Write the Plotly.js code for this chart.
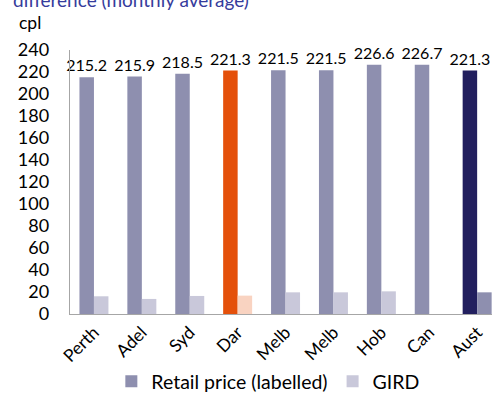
<!DOCTYPE html>
<html>
<head>
<meta charset="utf-8">
<script src="https://cdn.plot.ly/plotly-3.0.1.min.js"></script>
<style>html,body{margin:0;padding:0;background:#fff;overflow:hidden;}#chart{width:492px;height:401px;}</style>
</head>
<body>
<div id="chart"></div>
<script>
var categories = ['Perth','Adel','Syd','Dar','Melb','Melb','Hob','Can','Aust'];
var retailPrice = [215.2,215.9,218.5,221.3,221.5,221.5,226.6,226.7,221.3];
var gird = [16.1,13.7,16.4,16.7,19.7,19.7,20.6,null,19.7];
var yTicks = [0,20,40,60,80,100,120,140,160,180,200,220,240];

var retailColors = ['#8E8FAF','#8E8FAF','#8E8FAF','#E4500A','#8E8FAF','#8E8FAF','#8E8FAF','#8E8FAF','#221F5E'];
var girdColors = ['#C9C8DA','#C9C8DA','#C9C8DA','#F9D3C1','#C9C8DA','#C9C8DA','#C9C8DA','#C9C8DA','#8E8FAF'];

var pos = categories.map(function(c,i){return i;});
var FONT = 'Lato, "Open Sans", sans-serif';

var traces = [
  {type:'bar', name:'Retail price (labelled)', x:pos, y:retailPrice,
   marker:{color:retailColors, line:{width:0}},
   text:retailPrice.map(function(v){return v.toFixed(1);}), textposition:'outside',
   constraintext:'none',
   textfont:{family:FONT, size:16, color:'#000'}, cliponaxis:false, hoverinfo:'x+y'},
  {type:'bar', name:'GIRD', x:pos, y:gird,
   marker:{color:girdColors, line:{width:0}}, hoverinfo:'x+y'}
];

var layout = {
  width:492, height:401,
  margin:{l:70, r:0, t:50, b:85},
  paper_bgcolor:'#fff', plot_bgcolor:'#fff',
  font:{family:FONT, color:'#000'},
  barmode:'group', bargap:0.395, bargroupgap:0,
  title:{text:'difference (monthly average)', font:{family:FONT, size:19, color:'#363C9C'},
         xref:'container', x:13/492, xanchor:'left', yref:'container', y:1.0, yanchor:'middle'},
  xaxis:{range:[-0.5, 8.31], tickvals:pos, ticktext:categories, tickangle:-45,
         tickfont:{family:FONT, size:17.5, color:'#000'}, showline:true, linecolor:'#A6A6A6', linewidth:1.3,
         ticks:'', showgrid:false, zeroline:false, fixedrange:true},
  yaxis:{range:[0,240], tickvals:yTicks, tickfont:{family:FONT, size:18, color:'#000'},
         showline:true, linecolor:'#A6A6A6', linewidth:1.3, ticks:'', ticklabelstandoff:16,
         showgrid:false, zeroline:false, fixedrange:true},
  showlegend:true,
  legend:{orientation:'h', x:0.47, xanchor:'center', y:-0.257, yanchor:'middle',
          font:{family:FONT, size:19.5, color:'#000'}, bgcolor:'rgba(0,0,0,0)', itemwidth:30},
  annotations:[{text:'cpl', xref:'paper', yref:'paper', x:(17-70)/422, xanchor:'left',
                y:(316.5-22)/266.5, yanchor:'middle', showarrow:false, font:{family:FONT, size:17.5, color:'#000'}}]
};

Plotly.newPlot('chart', traces, layout, {displayModeBar:false, staticPlot:true});
</script>
</body>
</html>
